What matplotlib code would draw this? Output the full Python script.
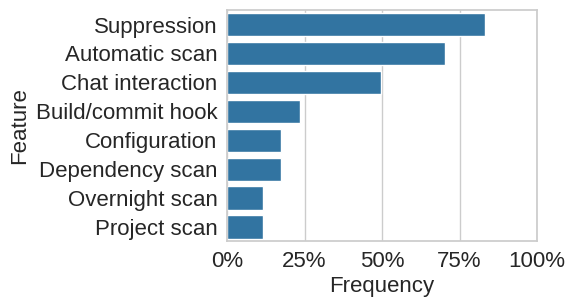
import matplotlib
matplotlib.use("Agg")
import matplotlib.pyplot as plt
import seaborn as sns
from matplotlib.ticker import PercentFormatter

features = ["Suppression", "Automatic scan", "Chat interaction", "Build/commit hook",
            "Configuration", "Dependency scan", "Overnight scan", "Project scan"]
frequency = [0.832, 0.703, 0.497, 0.234, 0.175, 0.175, 0.117, 0.117]

sns.set_theme(style="whitegrid")
plt.rcParams["font.family"] = ["Liberation Sans", "DejaVu Sans"]

fig, ax = plt.subplots(figsize=(5.75, 3.06), dpi=100)
fig.subplots_adjust(left=0.395, right=0.934, top=0.967, bottom=0.211)

sns.barplot(x=frequency, y=features, color="#1f77b4", ax=ax)

ax.set_xlim(0, 1)
ax.set_xticks([0, 0.25, 0.5, 0.75, 1.0])
ax.xaxis.set_major_formatter(PercentFormatter(1.0, decimals=0))
ax.set_xlabel("Frequency", fontsize=16, labelpad=3)
ax.set_ylabel("Feature", fontsize=16, labelpad=4)
ax.tick_params(labelsize=16, length=0)
ax.tick_params(axis="y", pad=7)
ax.tick_params(axis="x", pad=7)
ax.grid(axis="y", visible=False)
for s in ax.spines.values():
    s.set_color("#cccccc")

fig.savefig("out.png", dpi=100)
